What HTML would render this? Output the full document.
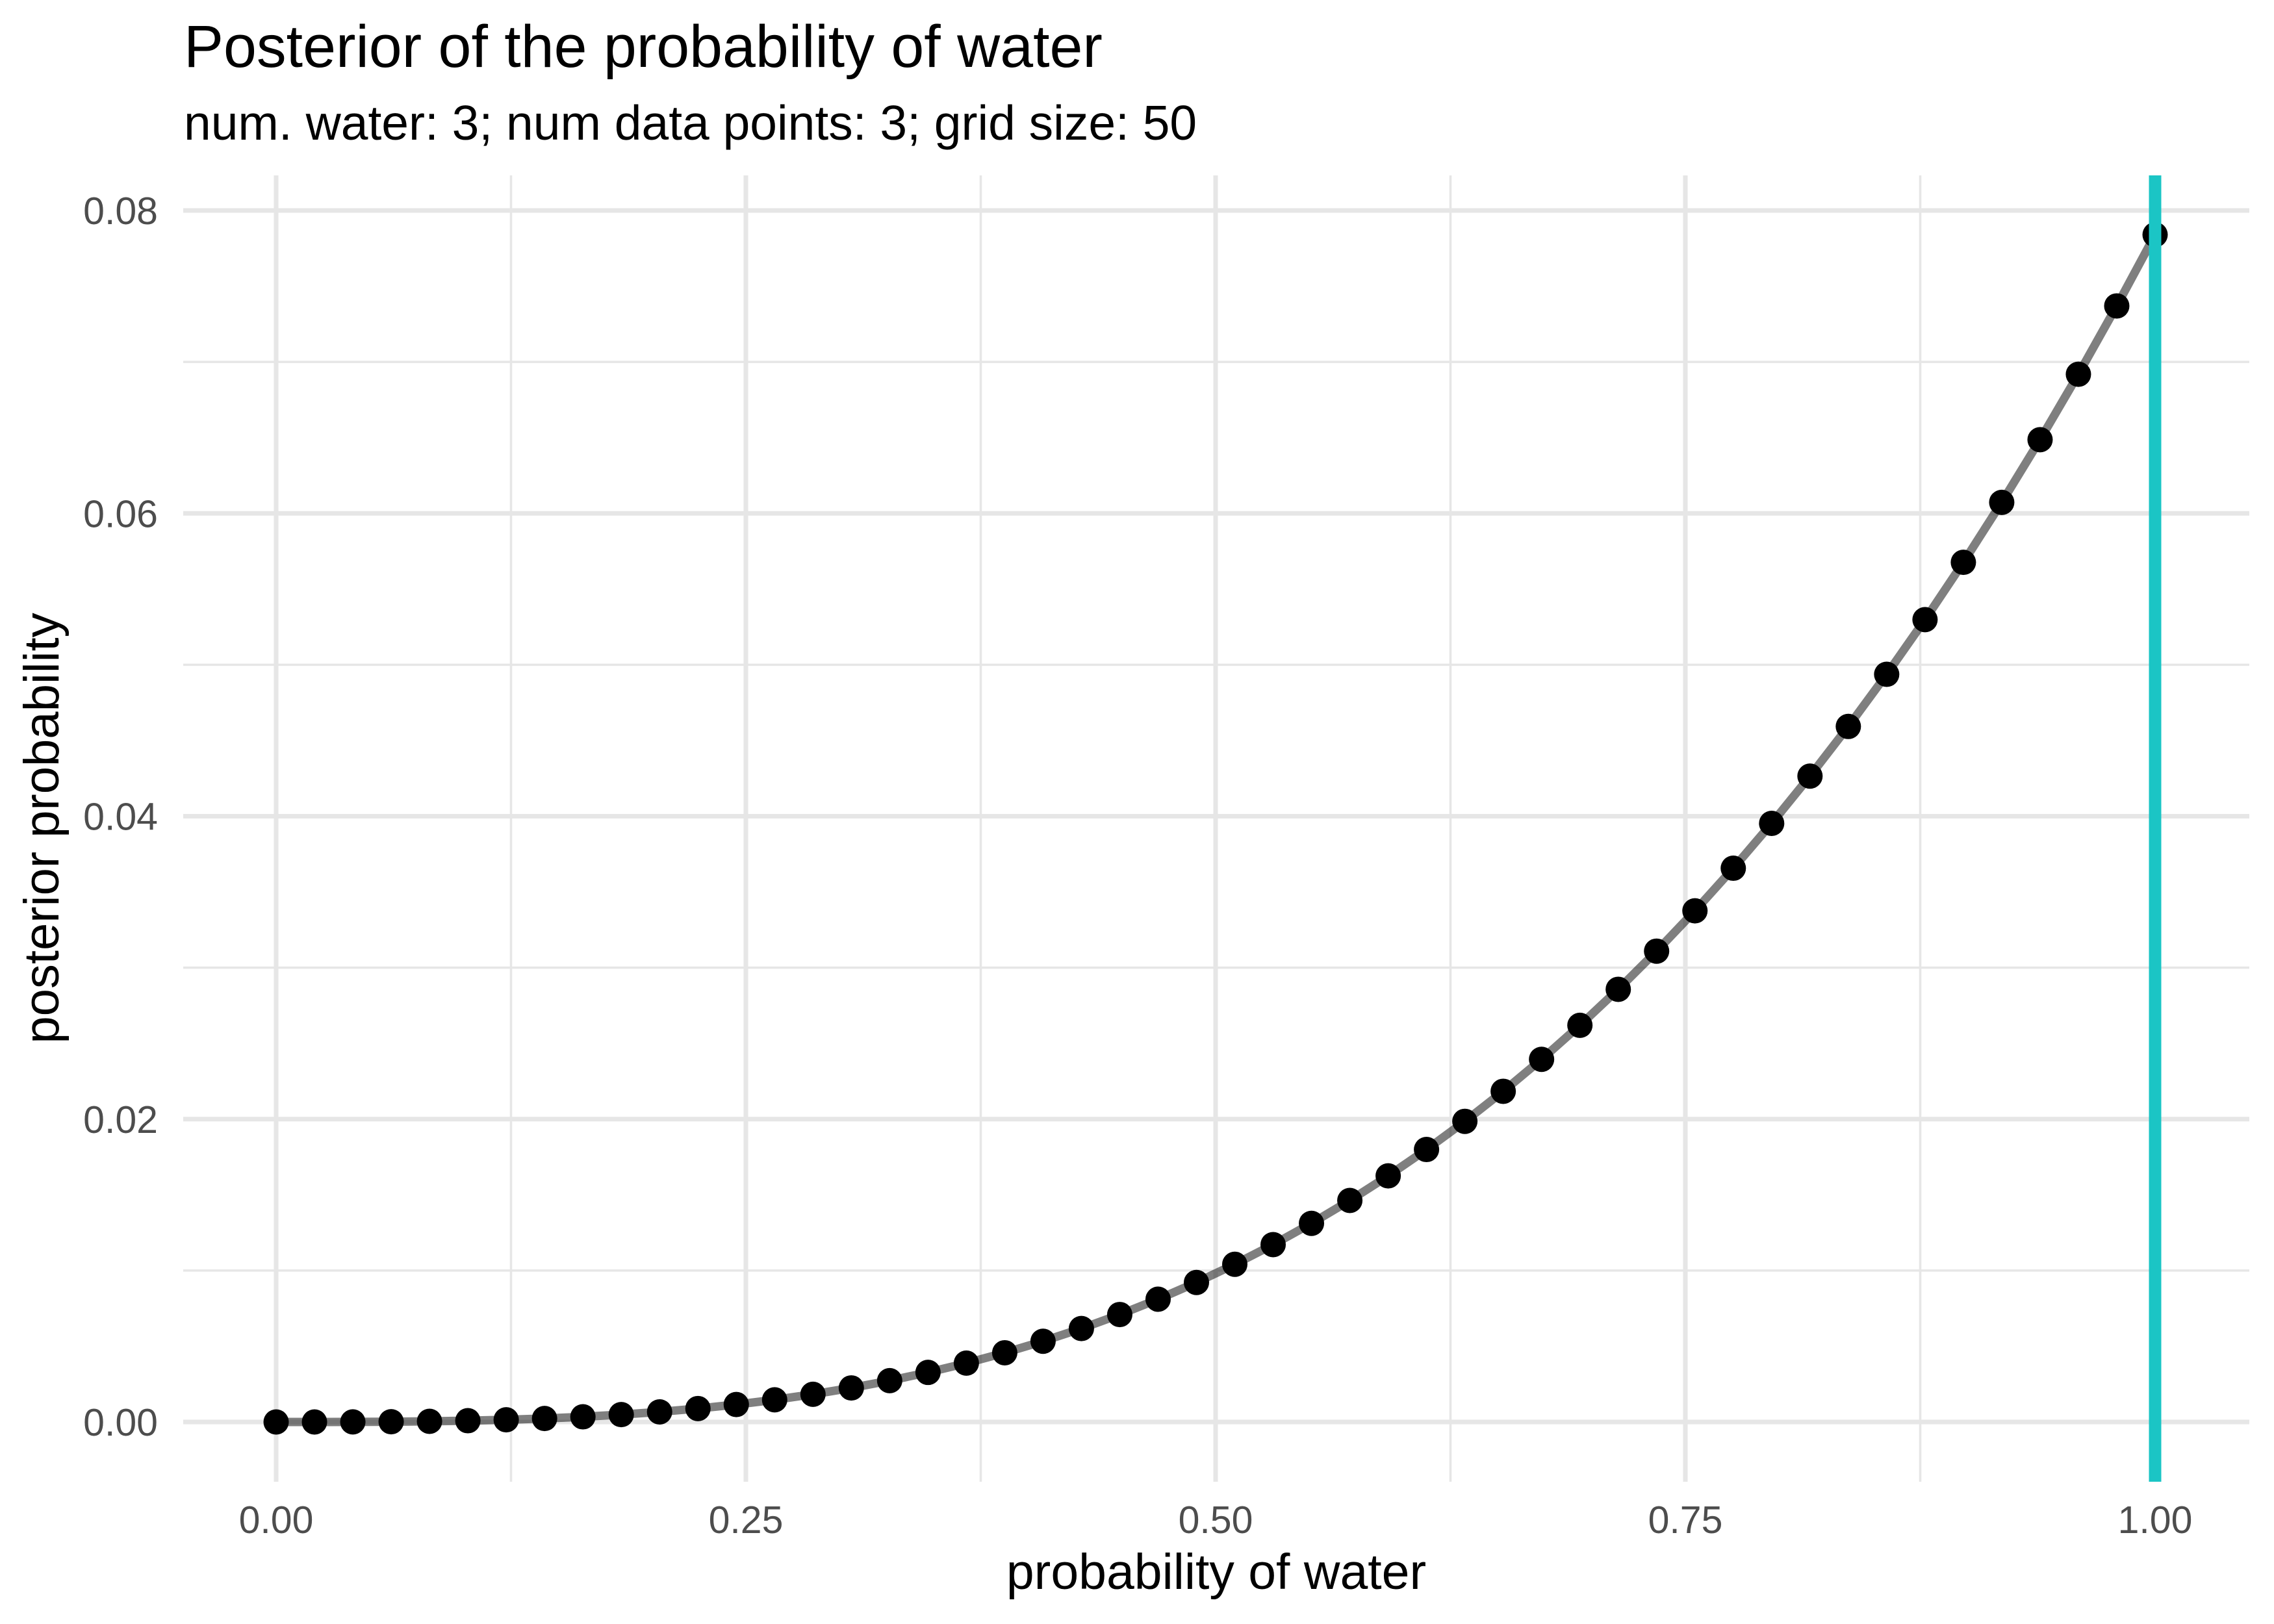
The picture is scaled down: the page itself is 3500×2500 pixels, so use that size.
<!DOCTYPE html>
<html><head><meta charset="utf-8"><style>
html,body{margin:0;padding:0;background:#fff}
svg{display:block;font-family:"Liberation Sans",sans-serif}
</style></head><body>
<svg id="chart" width="3500" height="2500" viewBox="0 0 3500 2500" xmlns="http://www.w3.org/2000/svg">
<rect x="0" y="0" width="3500" height="2500" fill="#fff"/>
<g id="grid"></g>
<g id="marks"></g>
<g id="axes"></g>
<text x="283" y="103" font-size="91.5" fill="#000">Posterior of the probability of water</text>
<text x="283" y="215" font-size="75" fill="#000">num. water: 3; num data points: 3; grid size: 50</text>
<text x="1872" y="2446" font-size="77" fill="#000" text-anchor="middle">probability of water</text>
<text x="0" y="0" font-size="76" fill="#000" text-anchor="middle" transform="translate(90,1275) rotate(-90)">posterior probability</text>
</svg>
<script>
const gridX = [0,0.02041,0.04082,0.06122,0.08163,0.10204,0.12245,0.14286,0.16327,0.18367,0.20408,0.22449,0.2449,0.26531,0.28571,0.30612,0.32653,0.34694,0.36735,0.38776,0.40816,0.42857,0.44898,0.46939,0.4898,0.5102,0.53061,0.55102,0.57143,0.59184,0.61224,0.63265,0.65306,0.67347,0.69388,0.71429,0.73469,0.7551,0.77551,0.79592,0.81633,0.83673,0.85714,0.87755,0.89796,0.91837,0.93878,0.95918,0.97959,1];
const posterior = [0,0.00000067,0.0000053,0.000018,0.0000426,0.0000833,0.000144,0.000229,0.000341,0.000486,0.000666,0.000887,0.001152,0.001464,0.001829,0.002249,0.00273,0.003274,0.003886,0.004571,0.005331,0.006171,0.007096,0.008108,0.009212,0.010412,0.011712,0.013117,0.014628,0.016252,0.017992,0.019852,0.021836,0.023948,0.026192,0.028571,0.031091,0.033754,0.036566,0.039529,0.042649,0.045928,0.049371,0.052982,0.056765,0.060724,0.064863,0.069186,0.073697,0.0784];
const xTicks = [0,0.25,0.5,0.75,1];
const xTickLabels = ["0.00","0.25","0.50","0.75","1.00"];
const xMinor = [0.125,0.375,0.625,0.875];
const yTicks = [0,0.02,0.04,0.06,0.08];
const yTickLabels = ["0.00","0.02","0.04","0.06","0.08"];
const yMinor = [0.01,0.03,0.05,0.07];
const vlineX = [1];

const NS="http://www.w3.org/2000/svg";
const P={l:282,r:3462,t:270,b:2281};
function sx(v){return 425+(3317-425)*v;}
function sy(v){return 2189+(324-2189)*(v/0.08);}
function mk(tag,attrs,parent){const e=document.createElementNS(NS,tag);for(const k in attrs)e.setAttribute(k,attrs[k]);parent.appendChild(e);return e;}
const grid=document.getElementById('grid'),marks=document.getElementById('marks'),axes=document.getElementById('axes');
yMinor.forEach(v=>{const e=mk('line',{x1:P.l,x2:P.r,y1:sy(v),y2:sy(v),stroke:'#e6e6e6','stroke-width':3.5},grid);

});
xMinor.forEach(v=>{const e=mk('line',{x1:sx(v),x2:sx(v),y1:P.t,y2:P.b,stroke:'#e6e6e6','stroke-width':3.5},grid);

});
yTicks.forEach((v,i)=>{const e=mk('line',{x1:P.l,x2:P.r,y1:sy(v),y2:sy(v),stroke:'#e6e6e6','stroke-width':7},grid);


const t=mk('text',{x:243,y:sy(v)+21,'font-size':59,fill:'#4d4d4d','text-anchor':'end'},axes);t.textContent=yTickLabels[i];

});
xTicks.forEach((v,i)=>{const e=mk('line',{x1:sx(v),x2:sx(v),y1:P.t,y2:P.b,stroke:'#e6e6e6','stroke-width':7},grid);


const t=mk('text',{x:sx(v),y:2360,'font-size':59,fill:'#4d4d4d','text-anchor':'middle'},axes);t.textContent=xTickLabels[i];

});
const line=mk('polyline',{points:gridX.map((x,i)=>sx(x)+','+sy(posterior[i])).join(' '),fill:'none',stroke:'#000','stroke-opacity':0.5,'stroke-width':13,'stroke-linejoin':'round'},marks);


gridX.forEach((x,i)=>{const c=mk('circle',{cx:sx(x),cy:sy(posterior[i]),r:19.5,fill:'#000'},marks);

});
vlineX.forEach(v=>{const l=mk('line',{x1:sx(v),x2:sx(v),y1:P.t,y2:P.b,stroke:'#1BC5C5','stroke-width':19},marks);

});
</script>
</body></html>
